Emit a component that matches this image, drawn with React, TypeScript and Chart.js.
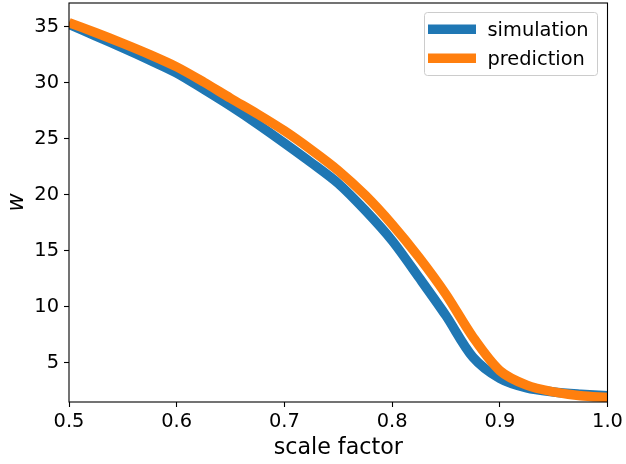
import React, { useEffect, useRef } from 'react';
import { Chart, registerables } from 'chart.js';

Chart.register(...registerables);

const scaleFactor = [0.5, 0.525, 0.55, 0.575, 0.6, 0.625, 0.65, 0.675, 0.7, 0.725, 0.75, 0.775, 0.8, 0.825, 0.85, 0.875, 0.9, 0.925, 0.95, 0.975, 1.0];
const simulation = [35.2, 34.15, 33.1, 32.0, 30.85, 29.4, 27.9, 26.3, 24.6, 22.85, 21.0, 18.6, 15.9, 12.6, 9.2, 5.5, 3.6, 2.75, 2.4, 2.2, 2.05];
const prediction = [35.35, 34.45, 33.5, 32.5, 31.4, 30.05, 28.6, 27.2, 25.7, 24.0, 22.15, 19.95, 17.35, 14.4, 11.1, 7.3, 4.3, 3.0, 2.4, 2.05, 1.9];
const seriesLabels = ['simulation', 'prediction'];
const seriesColors = ['#1f77b4', '#ff7f0e'];
const xTicks = [0.5, 0.6, 0.7, 0.8, 0.9, 1.0];
const yTicks = [5, 10, 15, 20, 25, 30, 35];
const xTitle = 'scale factor';
const yTitle = 'w';

const FONT = '"DejaVu Sans", sans-serif';
const LW = 9.5;

const framePlugin = {
  id: 'frameAndLegend',
  afterDatasetsDraw(chart: any) {
    const ctx = chart.ctx;
    const { left, top, right, bottom } = chart.chartArea;
    ctx.save();
    ctx.strokeStyle = '#000';
    ctx.lineWidth = 1.1;
    ctx.strokeRect(left, top, right - left, bottom - top);

    // legend
    const bx = 424.5, by = 12.5, bw = 173, bh = 63, r = 3;
    ctx.beginPath();
    ctx.moveTo(bx + r, by);
    ctx.lineTo(bx + bw - r, by);
    ctx.arcTo(bx + bw, by, bx + bw, by + r, r);
    ctx.lineTo(bx + bw, by + bh - r);
    ctx.arcTo(bx + bw, by + bh, bx + bw - r, by + bh, r);
    ctx.lineTo(bx + r, by + bh);
    ctx.arcTo(bx, by + bh, bx, by + bh - r, r);
    ctx.lineTo(bx, by + r);
    ctx.arcTo(bx, by, bx + r, by, r);
    ctx.closePath();
    ctx.fillStyle = 'rgba(255,255,255,0.8)';
    ctx.fill();
    ctx.strokeStyle = '#cccccc';
    ctx.lineWidth = 1;
    ctx.stroke();

    chart.data.datasets.forEach((ds: any) => {
      const idx = seriesLabels.indexOf(ds.label);
      const cy = 29.3 + idx * 29;
      ctx.beginPath();
      ctx.moveTo(428, cy);
      ctx.lineTo(476, cy);
      ctx.strokeStyle = ds.borderColor;
      ctx.lineWidth = LW;
      ctx.lineCap = 'butt';
      ctx.stroke();
      ctx.fillStyle = '#000';
      ctx.font = `19.4px ${FONT}`;
      ctx.textAlign = 'left';
      ctx.textBaseline = 'alphabetic';
      ctx.fillText(ds.label, 487.5, 36.2 + idx * 29);
    });
    ctx.restore();
  },
};

export default function App() {
  const canvasRef = useRef<HTMLCanvasElement | null>(null);

  useEffect(() => {
    const canvas = canvasRef.current;
    if (!canvas) return;
    const mk = (vals: number[]) => scaleFactor.map((x, i) => ({ x, y: vals[i] }));
    const lineDs = (i: number, vals: number[], order: number) => ({
      label: seriesLabels[i],
      data: mk(vals),
      borderColor: seriesColors[i],
      backgroundColor: seriesColors[i],
      borderWidth: LW,
      pointRadius: 0,
      fill: false,
      tension: 0.3,
      borderJoinStyle: 'round',
      borderCapStyle: 'butt',
      clip: 0,
      order,
    });
    const chart = new Chart(canvas, {
      type: 'line',
      data: {
        datasets: [lineDs(0, simulation, 1), lineDs(1, prediction, 0)],
      },
      options: {
        responsive: false,
        animation: false,
        devicePixelRatio: 1,
        layout: { padding: { left: 0, top: 3, right: 18.5, bottom: 0 } },
        plugins: { legend: { display: false }, tooltip: { enabled: false } },
        scales: {
          x: {
            type: 'linear',
            min: 0.5,
            max: 1.0,
            afterBuildTicks: (s: any) => { s.ticks = xTicks.map((v) => ({ value: v })); },
            afterFit: (s: any) => { s.height = 62; s.paddingLeft = 0; s.paddingRight = 0; },
            ticks: {
              callback: (v: any) => Number(v).toFixed(1),
              font: { family: FONT, size: 19.4 },
              color: '#000',
              padding: 3,
              maxRotation: 0,
              autoSkip: false,
            },
            grid: { drawOnChartArea: false, drawTicks: true, tickLength: 5, tickColor: '#000', tickWidth: 1.1, color: '#000' },
            border: { display: false },
            title: { display: true, text: xTitle, font: { family: FONT, size: 22.2 }, color: '#000', padding: { top: 0, bottom: 2 } },
          },
          y: {
            type: 'linear',
            min: 1.5,
            max: 37.1,
            afterBuildTicks: (s: any) => { s.ticks = yTicks.map((v) => ({ value: v })); },
            afterFit: (s: any) => { s.width = 69; s.paddingTop = 0; s.paddingBottom = 0; },
            ticks: {
              callback: (v: any) => String(v),
              font: { family: FONT, size: 19.4 },
              color: '#000',
              padding: 5,
              autoSkip: false,
            },
            grid: { drawOnChartArea: false, drawTicks: true, tickLength: 5, tickColor: '#000', tickWidth: 1.1, color: '#000' },
            border: { display: false },
            title: { display: true, text: yTitle, font: { family: FONT, size: 22.2, style: 'italic' }, color: '#000', padding: { top: 4, bottom: 0 } },
          },
        },
      },
      plugins: [framePlugin],
    } as any);
    return () => chart.destroy();
  }, []);

  return (
    <div style={{ position: 'fixed', left: 0, top: 0, width: 626, height: 464, background: '#fff' }}>
      <canvas ref={canvasRef} width={626} height={464} style={{ display: 'block' }} />
    </div>
  );
}
